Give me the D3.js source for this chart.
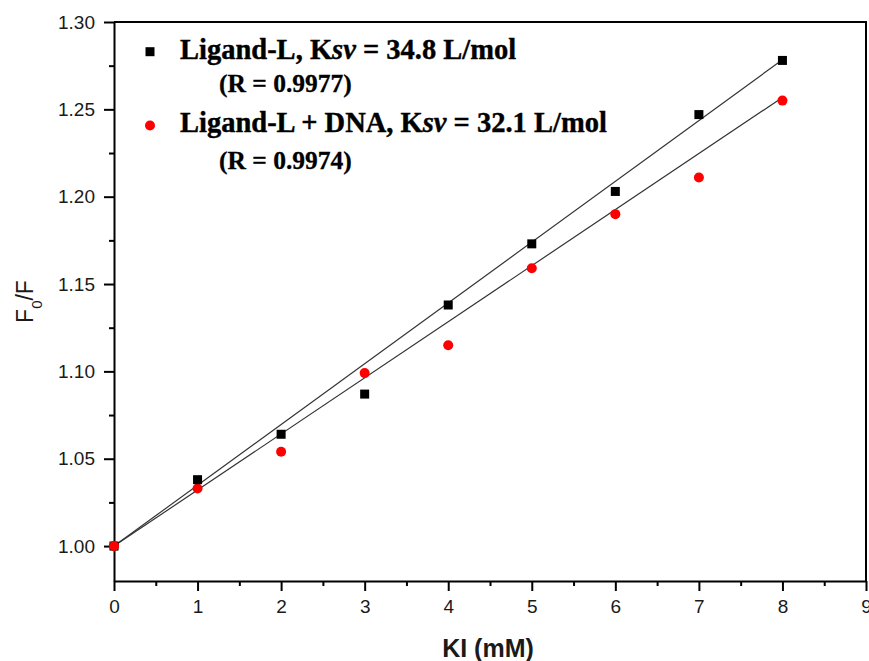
<!DOCTYPE html>
<html>
<head>
<meta charset="utf-8">
<script src="https://cdn.jsdelivr.net/npm/d3@7/dist/d3.min.js"></script>
<style>
  html, body { margin: 0; padding: 0; background: #fff; }
  svg { display: block; }
</style>
</head>
<body>
<svg id="chart" width="869" height="661"></svg>
<script>
// KI concentration (mM)
const concentrations = [0, 1, 2, 3, 4, 5, 6, 7, 8];
// F0/F for the free ligand and for the ligand bound to DNA
const ligandValues    = [1.000, 1.038, 1.064, 1.087, 1.138, 1.173, 1.203, 1.247, 1.278];
const ligandDnaValues = [1.000, 1.033, 1.054, 1.099, 1.115, 1.159, 1.190, 1.211, 1.255];
// Stern–Volmer constants (L/mol) and correlation coefficients
const ksvValues = [34.8, 32.1];
const rValues = [0.9977, 0.9974];
const seriesNames = ["Ligand-L", "Ligand-L + DNA"];
const seriesColors = ["#000000", "#ff0000"];
// Axis ticks
const xTicks = [0, 1, 2, 3, 4, 5, 6, 7, 8, 9];
const xMinorTicks = [0.5, 1.5, 2.5, 3.5, 4.5, 5.5, 6.5, 7.5, 8.5];
const yTicks = [1.00, 1.05, 1.10, 1.15, 1.20, 1.25, 1.30];
const yMinorTicks = [1.025, 1.075, 1.125, 1.175, 1.225, 1.275];

const svg = d3.select("#chart");
const plotLeft = 114, plotRight = 866, plotTop = 22, plotBottom = 581;

const x = d3.scaleLinear().domain([0, 9]).range([plotLeft, plotRight]);
const y = d3.scaleLinear().domain([0.98, 1.30]).range([plotBottom, plotTop]);

// Frame (top and right edges)
svg.append("path")
  .attr("d", `M${plotLeft},${plotTop}H${plotRight}V${plotBottom}`)
  .attr("fill", "none").attr("stroke", "#000").attr("stroke-width", 2);

// Bottom axis: major + minor ticks
svg.append("g").attr("transform", `translate(0,${plotBottom})`)
  .call(d3.axisBottom(x).tickValues(xTicks).tickFormat(d3.format("d")).tickSize(10).tickPadding(9).tickSizeOuter(0));
svg.append("g").attr("transform", `translate(0,${plotBottom})`)
  .call(d3.axisBottom(x).tickValues(xMinorTicks).tickFormat("").tickSize(5).tickSizeOuter(0))
  .select(".domain").remove();

// Left axis: major + minor ticks
svg.append("g").attr("transform", `translate(${plotLeft},0)`)
  .call(d3.axisLeft(y).tickValues(yTicks).tickFormat(d3.format(".2f")).tickSize(10).tickPadding(9).tickSizeOuter(0));
svg.append("g").attr("transform", `translate(${plotLeft},0)`)
  .call(d3.axisLeft(y).tickValues(yMinorTicks).tickFormat("").tickSize(5).tickSizeOuter(0))
  .select(".domain").remove();

svg.selectAll(".domain").attr("stroke", "#000").attr("stroke-width", 2);
svg.selectAll(".tick line").attr("stroke", "#000").attr("stroke-width", 2);
svg.selectAll(".tick text")
  .attr("fill", "#1a1a1a")
  .style("font-family", "'Liberation Sans', Arial, sans-serif")
  .style("font-size", "19px");

// Stern–Volmer fit lines: F0/F = 1 + Ksv[Q], with Ksv in L/mol and [Q] in mM
const fitLine = d3.line().x(d => x(d[0])).y(d => y(d[1]));
ksvValues.forEach(k => {
  const xs = [concentrations[0], concentrations[concentrations.length - 1]];
  svg.append("path")
    .datum(xs.map(c => [c, 1 + k * c / 1000]))
    .attr("d", fitLine)
    .attr("fill", "none")
    .attr("stroke", "#333")
    .attr("stroke-width", 1.2);
});

// Data markers: red circles then black squares
const sq = 9;
svg.append("g").selectAll("circle")
  .data(concentrations.map((c, i) => [c, ligandDnaValues[i]]))
  .join("circle")
  .attr("cx", d => x(d[0])).attr("cy", d => y(d[1])).attr("r", 5)
  .attr("fill", seriesColors[1]);
svg.append("g").selectAll("rect")
  .data(concentrations.map((c, i) => [c, ligandValues[i]]).filter(d => d[0] > 0))
  .join("rect")
  .attr("x", d => x(d[0]) - sq / 2).attr("y", d => y(d[1]) - sq / 2)
  .attr("width", sq).attr("height", sq)
  .attr("fill", seriesColors[0]);
// point at the origin (red drawn over black)
svg.append("rect")
  .attr("x", x(0) - sq / 2).attr("y", y(ligandValues[0]) - sq / 2)
  .attr("width", sq).attr("height", sq).attr("fill", seriesColors[0]);
svg.append("circle")
  .attr("cx", x(0)).attr("cy", y(ligandDnaValues[0])).attr("r", 5)
  .attr("fill", seriesColors[1]);

// Legend
const serif = "'Liberation Serif', 'Times New Roman', serif";
const legend = svg.append("g").attr("font-family", serif).attr("font-weight", "bold").attr("fill", "#000");
const legendRows = [
  { marker: "square", my: 51.7, ty: 58.5, ry: 92 },
  { marker: "circle", my: 125.5, ty: 132, ry: 168.5 }
];
legendRows.forEach((row, i) => {
  if (row.marker === "square") {
    legend.append("rect").attr("x", 150 - 4.5).attr("y", row.my - 4.5)
      .attr("width", 9).attr("height", 9).attr("fill", seriesColors[i]);
  } else {
    legend.append("circle").attr("cx", 150).attr("cy", row.my).attr("r", 5)
      .attr("fill", seriesColors[i]);
  }
  const t = legend.append("text").attr("x", 180).attr("y", row.ty)
    .style("font-size", "28.5px").attr("stroke", "#000").attr("stroke-width", 0.4);
  t.append("tspan").text(`${seriesNames[i]}, K`);
  t.append("tspan").attr("font-style", "italic").text("sv");
  t.append("tspan").text(` = ${ksvValues[i]} L/mol`);
  legend.append("text").attr("x", 219).attr("y", row.ry)
    .style("font-size", "25.5px").attr("stroke", "#000").attr("stroke-width", 0.3)
    .text(`(R = ${rValues[i]})`);
});

// Axis titles
const sans = "'Liberation Sans', Arial, sans-serif";
svg.append("text")
  .attr("x", 488).attr("y", 657)
  .attr("text-anchor", "middle")
  .attr("font-family", sans).attr("font-weight", "bold").style("font-size", "25px")
  .attr("fill", "#1a1a1a")
  .text("KI (mM)");

const yTitle = svg.append("text")
  .attr("transform", `translate(33,${(plotTop + plotBottom) / 2}) rotate(-90)`)
  .attr("text-anchor", "middle")
  .attr("font-family", sans).style("font-size", "23px")
  .attr("fill", "#1a1a1a");
yTitle.append("tspan").text("F");
yTitle.append("tspan").attr("baseline-shift", "sub").style("font-size", "15px").text("0");
yTitle.append("tspan").text("/F");
</script>
</body>
</html>
